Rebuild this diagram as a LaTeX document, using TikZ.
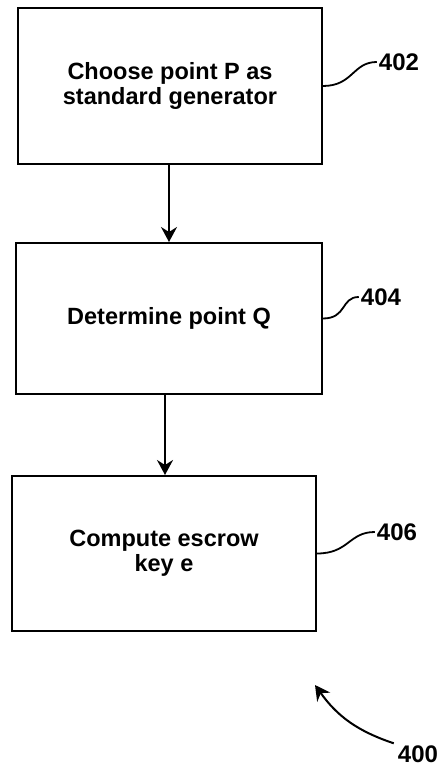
\documentclass[tikz,border=0pt]{standalone}
\usepackage{fontspec}
\setmainfont{Liberation Sans}
\usetikzlibrary{arrows.meta, positioning}

\begin{document}
\begin{tikzpicture}[x=1pt, y=-1pt,
    stepbox/.style={draw, line width=2pt, align=center, font=\bfseries\fontsize{23.5}{25}\selectfont},
    reflabel/.style={inner sep=2pt, font=\bfseries\fontsize{24}{25}\selectfont},
    flow/.style={line width=2pt, -{Stealth[length=15pt, width=16pt, inset=5pt]}},
    lead/.style={line width=1.8pt}]
            \useasboundingbox (0,0) rectangle (442,767);

            % Step 402
            \node[stepbox, minimum width=304pt, minimum height=156pt] (choose) at (170,86) {Choose point P as\\standard generator};
            \node[reflabel] (l402) at (399,62) {402};
            \draw[lead] (choose.east) .. controls +(30,0) and +(-24,0) .. (l402.west);

            % Step 404
            \node[stepbox, minimum width=306pt, minimum height=151pt] (determine) at (169,318.5) {Determine point Q};
            \node[reflabel] (l404) at (381,297) {404};
            \draw[lead] (determine.east) .. controls +(24,0) and +(-18,0) .. (l404.west);

            % Step 406
            \node[stepbox, minimum width=304pt, minimum height=155pt] (compute) at (164,553.5) {Compute escrow\\key e};
            \node[reflabel] (l406) at (397,532) {406};
            \draw[lead] (compute.east) .. controls +(32,0) and +(-26,0) .. (l406.west);

            % Flow
            \draw[flow] (determine.north |- choose.south) -- (determine.north);
            \draw[flow] ([xshift=1pt]compute.north |- determine.south) -- ([xshift=1pt]compute.north);

            % Figure number
            \node[reflabel] (l400) at (418,754) {400};
            \coordinate (tip400) at (315,685);
            \draw[flow] ([xshift=-2pt]l400.north west) to[bend left=18] (tip400);
\end{tikzpicture}
\end{document}
